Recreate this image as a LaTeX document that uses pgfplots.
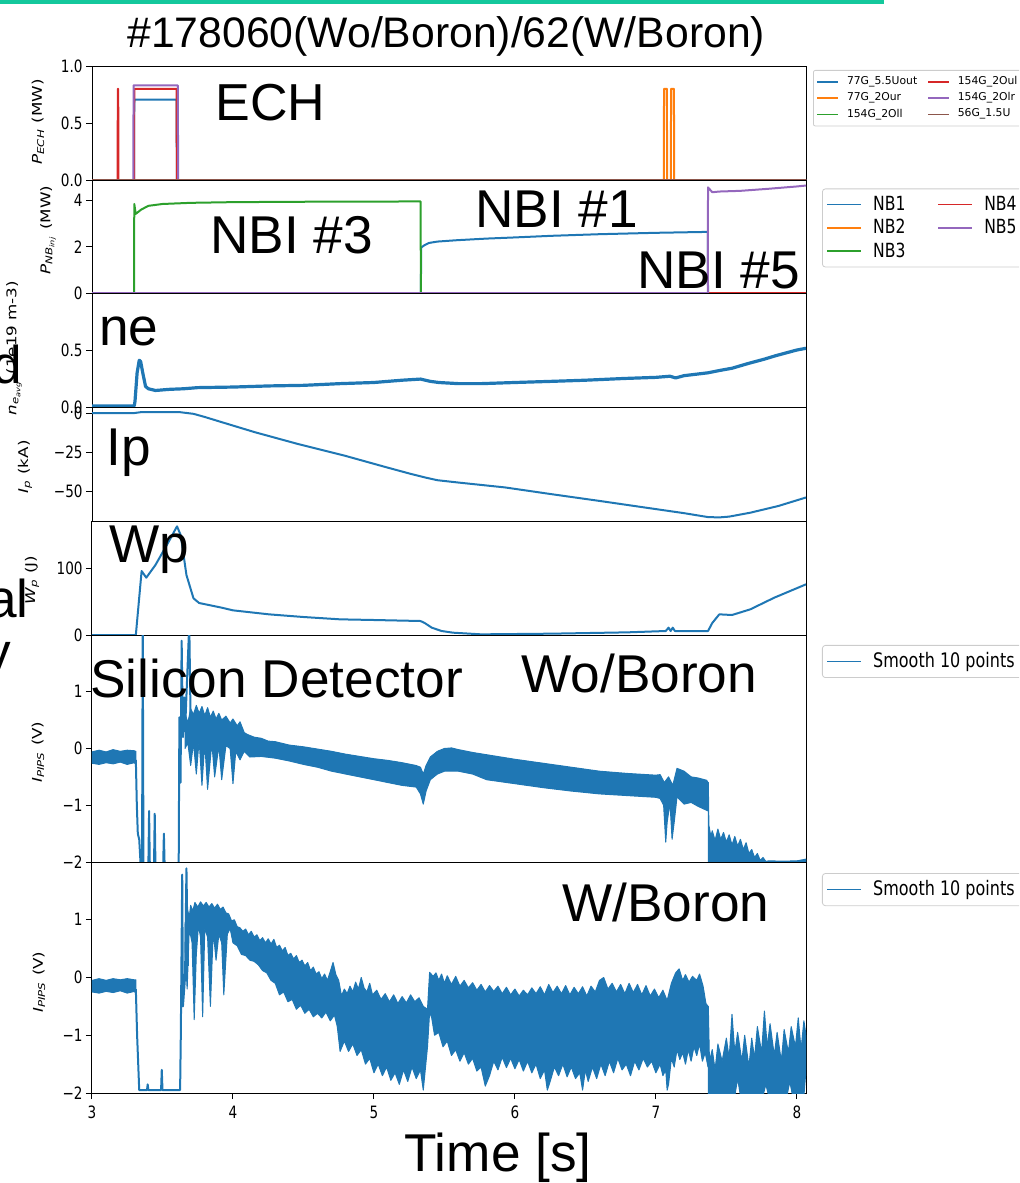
\documentclass[border=0pt]{standalone}
\usepackage{fontspec}
\setmainfont{DejaVu Sans}
\newfontfamily\slide{Liberation Sans}
\usepackage{graphicx}
\usepackage{pgfplots}
\pgfplotsset{compat=1.18}

\definecolor{mblue}{HTML}{1F77B4}
\definecolor{morange}{HTML}{FF7F0E}
\definecolor{mgreen}{HTML}{2CA02C}
\definecolor{mred}{HTML}{D62728}
\definecolor{mpurple}{HTML}{9467BD}
\definecolor{mbrown}{HTML}{8C564B}
\definecolor{teal}{HTML}{14C89C}

% matplotlib figure is stretched vertically on the slide
\newcommand\st[1]{\scalebox{1}[1.25]{#1}}
\newcommand\yst[1]{\scalebox{1.25}[1]{#1}}
\newcommand\tl{\fontsize{6.8}{7}\selectfont}
\newcommand\yl{\fontsize{6.7}{7}\selectfont}
\newcommand\bigslide{\slide\fontsize{26.6}{30}\selectfont}

\pgfplotsset{
  panel/.style={
    anchor=north west, scale only axis, width=357pt,
    xmin=3, xmax=8.065, xtick=\empty,
    ytick pos=left, tick align=outside, major tick length=3pt,
    axis line style={line width=0.5pt},
    tick style={line width=0.5pt, black},
    yticklabel style={font=\tl, inner sep=1.5pt},
    xticklabel style={font=\tl},
    legend cell align=left,
    every axis plot/.append style={line width=1pt, line join=round},
  },
  nblegend/.style={
    legend style={at={(1.0224,0.925)}, anchor=north west,
      font=\fontsize{7.8}{8}\selectfont, draw=black!20, rounded corners=1.5pt,
      inner xsep=2pt, inner ysep=1.5pt, row sep=-1pt,
      /tikz/every odd column/.append style={column sep=3.5pt},
      /tikz/every even column/.append style={column sep=14pt}},
    legend image code/.code={\draw[##1] (0pt,0pt) -- (17pt,0pt);},
  },
}

\begin{document}
\begin{tikzpicture}
\path[use as bounding box] (0pt,0pt) rectangle (509.5pt,-591.5pt);
\clip (0pt,0pt) rectangle (509.5pt,-591.5pt);
\begin{scope}[x=0.5pt,y=-0.5pt]
\fill[teal] (0,0) rectangle (884,3.5);
\end{scope}

% ---------------- ECH ----------------
\begin{axis}[panel, at={(46pt,-33pt)}, height=57pt,
  ymin=0, ymax=1, ytick={0,0.5,1}, yticklabels={\st{0.0},\st{0.5},\st{1.0}},
  legend columns=2,
  legend style={at={(1.0098,0.965)}, anchor=north west,
    font=\fontsize{5.4}{6}\selectfont, draw=black!20, rounded corners=1pt,
    inner xsep=1.5pt, inner ysep=1pt, row sep=-1.5pt,
    /tikz/every odd column/.append style={column sep=2pt},
    /tikz/every even column/.append style={column sep=3pt}},
  legend image code/.code={\draw[#1] (0pt,0pt) -- (10.5pt,0pt);}]
\addplot[mblue, forget plot] coordinates {(3,0) (3.298,0) (3.300,0.706) (3.600,0.706) (3.602,0) (8.065,0)};
\addplot[morange, forget plot] coordinates {(3,0) (7.056,0) (7.058,0.80) (7.078,0.80) (7.080,0) (7.106,0) (7.108,0.80) (7.128,0.80) (7.130,0) (8.065,0)};
\addplot[mgreen, forget plot] coordinates {(3,0) (8.065,0)};
\addplot[mred, forget plot] coordinates {(3,0) (3.182,0) (3.183,0.80) (3.186,0.80) (3.187,0) (3.298,0) (3.300,0.80) (3.600,0.80) (3.602,0) (8.065,0)};
\addplot[mpurple, forget plot] coordinates {(3,0) (3.293,0) (3.295,0.83) (3.609,0.83) (3.611,0) (8.065,0)};
\addplot[mbrown, forget plot] coordinates {(3,0) (8.065,0)};
\addlegendimage{mblue, line width=0.8pt}\addlegendentry{77G\_5.5Uout}
\addlegendimage{mred, line width=0.8pt}\addlegendentry{154G\_2Oul}
\addlegendimage{morange, line width=0.8pt}\addlegendentry{77G\_2Our}
\addlegendimage{mpurple, line width=0.8pt}\addlegendentry{154G\_2Olr}
\addlegendimage{mgreen, line width=0.8pt}\addlegendentry{154G\_2Oll}
\addlegendimage{mbrown, line width=0.8pt}\addlegendentry{56G\_1.5U}
\end{axis}

% ---------------- NBI ----------------
\begin{axis}[panel, nblegend, at={(46pt,-90pt)}, height=56.5pt,
  ymin=0, ymax=4.9, ytick={0,2,4}, yticklabels={\st{0},\st{2},\st{4}},
  legend columns=2]
\addplot[mblue, forget plot] coordinates {(3,0) (5.333,0) (5.335,1.97) (5.36,2.08) (5.39,2.17) (5.45,2.23) (5.59,2.29) (5.8,2.36) (6.0,2.41) (6.26,2.48) (6.6,2.55) (7.0,2.61) (7.368,2.65) (7.370,0) (8.065,0)};
\addplot[morange, forget plot] coordinates {(3,0) (8.065,0)};
\addplot[mgreen, forget plot] coordinates {(3,0) (3.298,0) (3.300,3.86) (3.31,3.43) (3.35,3.62) (3.40,3.78) (3.50,3.86) (3.70,3.91) (4.0,3.94) (4.6,3.96) (5.331,3.97) (5.333,0) (8.065,0)};
\addplot[mred, forget plot] coordinates {(3,0) (8.065,0)};
\addplot[mpurple, forget plot] coordinates {(3,0) (7.368,0) (7.370,4.58) (7.40,4.37) (7.45,4.40) (7.60,4.43) (7.80,4.52) (8.0,4.62) (8.065,4.66)};
\addlegendimage{mblue, line width=0.9pt}\addlegendentry{\st{NB1}}
\addlegendimage{mred, line width=0.9pt}\addlegendentry{\st{NB4}}
\addlegendimage{morange, line width=0.9pt}\addlegendentry{\st{NB2}}
\addlegendimage{mpurple, line width=0.9pt}\addlegendentry{\st{NB5}}
\addlegendimage{mgreen, line width=0.9pt}\addlegendentry{\st{NB3}}
\end{axis}

% ---------------- ne ----------------
\begin{axis}[panel, at={(46pt,-146.5pt)}, height=57pt,
  ymin=0, ymax=1, ytick={0,0.5}, yticklabels={\st{0.0},\st{0.5}}]
\addplot[mblue, line width=1.6pt] coordinates {(3.000,0.01) (3.300,0.01) (3.305,0.05) (3.32,0.30) (3.335,0.41) (3.345,0.40) (3.36,0.30) (3.38,0.18) (3.40,0.16) (3.45,0.145) (3.55,0.155) (3.65,0.16) (3.75,0.17) (4.0,0.175) (4.26,0.185) (4.5,0.19) (4.76,0.205) (5.0,0.215) (5.2,0.235) (5.33,0.245) (5.40,0.225) (5.46,0.215) (5.6,0.205) (5.76,0.205) (6.0,0.215) (6.26,0.225) (6.5,0.235) (6.77,0.25) (7.0,0.26) (7.10,0.27) (7.14,0.255) (7.2,0.275) (7.37,0.30) (7.45,0.32) (7.54,0.34) (7.65,0.38) (7.77,0.42) (7.85,0.45) (7.94,0.48) (8.0,0.50) (8.065,0.515)};
\end{axis}

% ---------------- Ip ----------------
\begin{axis}[panel, at={(46pt,-203.5pt)}, height=57pt,
  ymin=-68.8, ymax=3.85, ytick={-50,-25,0}, yticklabels={\st{−50},\st{−25},\st{0}}]
\addplot[mblue] coordinates {(3.0,0) (3.30,0) (3.35,0.6) (3.62,0.6) (3.72,-0.5) (3.80,-2.5) (3.92,-5.8) (4.155,-12.2) (4.46,-19.7) (4.79,-27.1) (5.09,-34.6) (5.25,-38.5) (5.36,-41) (5.45,-42.8) (5.59,-44.2) (5.93,-47.4) (6.26,-51.7) (6.60,-56) (6.93,-60.3) (7.20,-63.8) (7.37,-66.3) (7.45,-66.5) (7.52,-66.0) (7.67,-63.5) (7.87,-59.2) (8.065,-53.8)};
\end{axis}

% ---------------- Wp ----------------
\begin{axis}[panel, at={(46pt,-260.5pt)}, height=57pt,
  ymin=0, ymax=171, ytick={0,100}, yticklabels={\st{0},\st{100}}]
\addplot[mblue] coordinates {(3.0,0) (3.311,0) (3.352,96) (3.385,86) (3.45,105) (3.552,143) (3.603,163) (3.629,150) (3.67,90) (3.72,55) (3.76,48) (3.92,41) (4.0,37) (4.255,31) (4.5,27) (4.76,23.5) (5.0,22.5) (5.33,21) (5.36,18) (5.41,11) (5.48,6) (5.56,3.5) (5.76,1) (6.26,2) (6.8,4) (7.07,6) (7.09,11) (7.105,6) (7.12,11) (7.135,6) (7.37,6) (7.40,18) (7.45,31) (7.54,30) (7.67,38.5) (7.84,56) (8.065,76)};
\end{axis}

% ---------------- Silicon, Wo/Boron ----------------
\begin{axis}[panel, nblegend, at={(46pt,-317.5pt)}, height=113.5pt,
  ymin=-2, ymax=2, ytick={-2,-1,0,1}, yticklabels={\st{−2},\st{−1},\st{0},\st{1}},
  legend style={at={(1.0224,0.956)}, font=\fontsize{8}{8}\selectfont}]
\addplot[mblue, fill=mblue, line width=0.5pt, forget plot] coordinates {(3.0,-0.06) (3.05,-0.03) (3.10,-0.06) (3.15,-0.02) (3.20,-0.05) (3.25,-0.03) (3.30,-0.04) (3.311,-0.05) (3.311,-0.28) (3.30,-0.25) (3.25,-0.28) (3.20,-0.24) (3.15,-0.27) (3.10,-0.25) (3.05,-0.28) (3.0,-0.26)} -- cycle;
\addplot[mblue, forget plot] coordinates {(3.311,-0.2) (3.318,-1.0) (3.325,-1.5) (3.335,-1.6) (3.345,-2.05) (3.355,-2.05) (3.36,2.2) (3.365,-2.05) (3.40,-2.05) (3.405,-1.1) (3.41,-2.05) (3.44,-2.05) (3.445,-1.15) (3.45,-2.05) (3.505,-2.05) (3.51,-1.5) (3.515,-2.05) (3.615,-2.05) (3.62,0.55) (3.628,-0.6) (3.636,1.9) (3.645,0.2) (3.655,0.9) (3.66,0.3) (3.69,2.2) (3.70,0.4)};
\addplot[mblue, fill=mblue, line width=0.5pt, forget plot] coordinates {(3.66,0.62) (3.68,0.45) (3.70,0.70) (3.72,0.60) (3.74,0.76) (3.76,0.62) (3.78,0.74) (3.80,0.58) (3.82,0.72) (3.84,0.55) (3.86,0.66) (3.88,0.52) (3.90,0.62) (3.92,0.50) (3.95,0.57) (3.98,0.45) (4.00,0.52) (4.03,0.40) (4.05,0.47) (4.08,0.28) (4.10,0.25) (4.15,0.20) (4.20,0.18) (4.25,0.13) (4.30,0.12) (4.40,0.06) (4.50,0.03) (4.60,-0.01) (4.70,-0.05) (4.80,-0.10) (4.90,-0.14) (5.00,-0.18) (5.10,-0.21) (5.20,-0.25) (5.30,-0.30) (5.33,-0.33) (5.35,-0.45) (5.37,-0.30) (5.40,-0.15) (5.45,-0.05) (5.50,0.00) (5.55,0.01) (5.60,-0.02) (5.70,-0.07) (5.80,-0.11) (5.90,-0.15) (6.00,-0.19) (6.20,-0.26) (6.40,-0.33) (6.60,-0.40) (6.80,-0.44) (7.00,-0.47) (7.03,-0.46) (7.06,-0.60) (7.09,-0.50) (7.12,-0.65) (7.15,-0.35) (7.20,-0.40) (7.25,-0.50) (7.30,-0.52) (7.36,-0.56) (7.37,-0.60)
 (7.37,-1.10) (7.30,-1.02) (7.25,-0.95) (7.20,-0.98) (7.15,-0.85) (7.13,-1.30) (7.115,-1.60) (7.10,-0.95) (7.08,-1.30) (7.07,-1.65) (7.055,-1.0) (7.03,-0.88) (7.00,-0.86) (6.80,-0.83) (6.60,-0.80) (6.40,-0.75) (6.20,-0.69) (6.00,-0.62) (5.80,-0.55) (5.70,-0.45) (5.60,-0.40) (5.50,-0.40) (5.45,-0.45) (5.40,-0.55) (5.37,-0.75) (5.35,-0.98) (5.33,-0.80) (5.30,-0.68) (5.20,-0.65) (5.10,-0.60) (5.00,-0.55) (4.90,-0.50) (4.80,-0.45) (4.70,-0.40) (4.60,-0.33) (4.50,-0.28) (4.40,-0.22) (4.30,-0.17) (4.20,-0.14) (4.12,-0.15) (4.10,-0.10) (4.08,-0.05) (4.05,-0.20) (4.02,-0.05) (4.00,-0.62) (3.98,0.00) (3.95,0.05) (3.92,-0.55) (3.90,0.05) (3.87,-0.50) (3.85,0.10) (3.82,-0.72) (3.80,0.10) (3.78,-0.65) (3.76,0.15) (3.74,-0.45) (3.72,0.10) (3.70,-0.30) (3.68,0.10) (3.66,0.00)} -- cycle;
\addplot[mblue, fill=mblue, line width=0.5pt, forget plot] coordinates {(7.372,-0.6) (7.376,-1.35) (7.39,-1.55) (7.40,-1.45) (7.42,-1.62) (7.44,-1.42) (7.46,-1.60) (7.48,-1.48) (7.50,-1.65) (7.52,-1.52) (7.54,-1.70) (7.56,-1.55) (7.58,-1.72) (7.60,-1.60) (7.62,-1.78) (7.64,-1.66) (7.66,-1.85) (7.68,-1.78) (7.70,-1.92) (7.72,-1.85) (7.74,-1.97) (7.76,-1.92) (7.78,-1.99) (7.80,-1.98) (7.90,-1.985) (8.00,-1.98) (8.065,-1.95) (8.065,-2.1) (7.372,-2.1)} -- cycle;
\addlegendimage{mblue, line width=0.9pt}\addlegendentry{\st{Smooth 10 points}}
\end{axis}

% ---------------- Silicon, W/Boron ----------------
\begin{axis}[panel, nblegend, at={(46pt,-431pt)}, height=115.5pt,
  ymin=-2, ymax=2, ytick={-2,-1,0,1}, yticklabels={\st{−2},\st{−1},\st{0},\st{1}},
  xtick={3,4,5,6,7,8}, xticklabels={\st{3},\st{4},\st{5},\st{6},\st{7},\st{8}},
  xtick pos=bottom,
  legend style={at={(1.0224,0.952)}, font=\fontsize{8}{8}\selectfont}]
\addplot[mblue, fill=mblue, line width=0.5pt, forget plot] coordinates {(3.0,-0.05) (3.05,-0.02) (3.10,-0.05) (3.15,-0.02) (3.20,-0.04) (3.25,-0.02) (3.30,-0.04) (3.311,-0.04) (3.311,-0.27) (3.30,-0.24) (3.25,-0.27) (3.20,-0.23) (3.15,-0.26) (3.10,-0.24) (3.05,-0.27) (3.0,-0.25)} -- cycle;
\addplot[mblue, forget plot] coordinates {(3.311,-0.2) (3.32,-1.0) (3.335,-1.95) (3.39,-1.95) (3.395,-1.85) (3.40,-1.95) (3.49,-1.95) (3.495,-1.6) (3.50,-1.95) (3.625,-1.95) (3.63,-1.0) (3.64,1.78) (3.645,-0.5) (3.66,0.0) (3.67,1.89) (3.68,0.2)};
\addplot[mblue, fill=mblue, line width=0.5pt, forget plot] coordinates {(3.660,0.9) (3.675,1.20) (3.69,1.05) (3.70,1.25) (3.715,1.15) (3.73,1.30) (3.75,1.22) (3.77,1.31) (3.79,1.24) (3.81,1.30) (3.83,1.22) (3.85,1.28) (3.87,1.20) (3.89,1.27) (3.91,1.18) (3.93,1.22) (3.95,1.12) (3.97,1.10) (3.99,0.98) (4.01,1.00) (4.03,0.88) (4.05,0.86) (4.07,0.80) (4.09,0.84) (4.11,0.74) (4.13,0.80) (4.15,0.70) (4.17,0.74) (4.19,0.64) (4.21,0.69) (4.23,0.60) (4.25,0.67) (4.27,0.58) (4.29,0.66) (4.31,0.52) (4.33,0.56) (4.35,0.46) (4.37,0.52) (4.39,0.38) (4.41,0.42) (4.43,0.32) (4.45,0.38) (4.47,0.26) (4.49,0.30) (4.51,0.20) (4.53,0.26) (4.55,0.12) (4.57,0.18) (4.59,0.06) (4.61,0.10) (4.63,-0.02) (4.65,0.06) (4.67,-0.05) (4.69,0.10) (4.71,0.26) (4.73,0.05) (4.75,-0.05) (4.77,-0.32) (4.79,-0.20) (4.81,-0.28) (4.83,-0.15) (4.85,-0.25) (4.87,-0.08) (4.89,-0.20) (4.91,0.0) (4.93,-0.18) (4.95,-0.25) (4.97,-0.10) (4.99,-0.30) (5.02,-0.22) (5.05,-0.38) (5.08,-0.28) (5.11,-0.42) (5.14,-0.30) (5.17,-0.45) (5.20,-0.33) (5.23,-0.44) (5.26,-0.30) (5.29,-0.42) (5.32,-0.35) (5.35,-0.50) (5.38,-0.55) (5.395,0.09) (5.42,0.02) (5.44,0.08) (5.46,-0.05) (5.48,0.06) (5.50,-0.10) (5.52,0.03) (5.55,-0.12) (5.58,0.02) (5.61,-0.15) (5.64,-0.05) (5.67,-0.18) (5.70,-0.09) (5.73,-0.22) (5.76,-0.12) (5.79,-0.25) (5.82,-0.14) (5.85,-0.24) (5.88,-0.15) (5.91,-0.28) (5.94,-0.17) (5.97,-0.30) (6.00,-0.20) (6.03,-0.32) (6.06,-0.22) (6.09,-0.30) (6.12,-0.18) (6.15,-0.28) (6.18,-0.16) (6.21,-0.30) (6.24,-0.12) (6.27,-0.26) (6.30,-0.15) (6.33,-0.28) (6.36,-0.14) (6.39,-0.30) (6.42,-0.17) (6.45,-0.28) (6.48,-0.16) (6.51,-0.32) (6.54,-0.15) (6.57,-0.25) (6.60,-0.05) (6.63,0.0) (6.66,-0.20) (6.69,-0.10) (6.72,-0.25) (6.75,-0.12) (6.78,-0.28) (6.81,-0.10) (6.84,-0.26) (6.87,-0.12) (6.90,-0.30) (6.93,-0.14) (6.96,-0.32) (6.99,-0.20) (7.02,-0.35) (7.05,-0.22) (7.08,-0.40) (7.11,-0.10) (7.14,0.08) (7.165,0.15) (7.19,-0.05) (7.21,0.05) (7.235,-0.08) (7.26,0.02) (7.29,-0.05) (7.31,0.06) (7.335,-0.15) (7.355,-0.45) (7.37,-0.50)
 (7.37,-1.55) (7.35,-1.30) (7.33,-1.45) (7.31,-1.15) (7.29,-1.35) (7.27,-1.20) (7.25,-1.45) (7.23,-1.25) (7.21,-1.50) (7.19,-1.30) (7.17,-1.42) (7.15,-1.25) (7.13,-1.55) (7.11,-1.40) (7.09,-1.85) (7.08,-1.95) (7.07,-1.60) (7.05,-1.70) (7.03,-1.50) (7.00,-1.65) (6.97,-1.45) (6.94,-1.55) (6.91,-1.40) (6.88,-1.60) (6.85,-1.45) (6.82,-1.70) (6.79,-1.50) (6.76,-1.60) (6.73,-1.40) (6.70,-1.65) (6.67,-1.45) (6.64,-1.70) (6.61,-1.50) (6.58,-1.75) (6.55,-1.55) (6.52,-1.80) (6.50,-1.60) (6.48,-1.95) (6.46,-1.65) (6.43,-1.75) (6.40,-1.55) (6.37,-1.72) (6.34,-1.50) (6.31,-1.70) (6.28,-1.55) (6.25,-1.80) (6.23,-1.95) (6.21,-1.60) (6.18,-1.75) (6.15,-1.50) (6.12,-1.65) (6.09,-1.45) (6.06,-1.62) (6.03,-1.42) (6.00,-1.58) (5.97,-1.40) (5.94,-1.56) (5.91,-1.38) (5.88,-1.60) (5.85,-1.45) (5.82,-1.70) (5.79,-1.88) (5.76,-1.55) (5.73,-1.62) (5.70,-1.40) (5.67,-1.50) (5.64,-1.30) (5.61,-1.45) (5.58,-1.25) (5.55,-1.35) (5.52,-1.10) (5.49,-1.20) (5.46,-0.95) (5.43,-1.00) (5.41,-0.70) (5.395,-0.60) (5.38,-1.20) (5.35,-1.95) (5.33,-1.60) (5.30,-1.75) (5.27,-1.55) (5.24,-1.80) (5.21,-1.60) (5.18,-1.85) (5.15,-1.65) (5.12,-1.78) (5.09,-1.55) (5.06,-1.70) (5.03,-1.50) (5.00,-1.65) (4.97,-1.40) (4.94,-1.50) (4.91,-1.25) (4.88,-1.35) (4.85,-1.15) (4.82,-1.28) (4.79,-1.10) (4.76,-1.28) (4.74,-0.85) (4.72,-0.65) (4.69,-0.75) (4.66,-0.60) (4.63,-0.70) (4.60,-0.62) (4.57,-0.68) (4.54,-0.55) (4.51,-0.62) (4.48,-0.48) (4.45,-0.55) (4.42,-0.38) (4.39,-0.42) (4.36,-0.25) (4.33,-0.30) (4.30,-0.10) (4.27,-0.05) (4.24,0.08) (4.21,0.12) (4.18,0.22) (4.15,0.28) (4.12,0.30) (4.09,0.38) (4.06,0.40) (4.03,0.55) (4.00,0.60) (3.98,0.85) (3.96,0.75) (3.935,-0.30) (3.92,0.60) (3.90,0.75) (3.88,0.30) (3.86,0.80) (3.84,-0.50) (3.82,0.70) (3.80,0.85) (3.785,-0.68) (3.77,0.70) (3.755,0.90) (3.74,0.40) (3.725,-0.73) (3.71,0.60) (3.69,0.85) (3.675,-0.20) (3.66,0.5)} -- cycle;
\addplot[mblue, fill=mblue, line width=0.5pt, forget plot] coordinates {(7.372,-0.5) (7.38,-1.45) (7.40,-1.25) (7.42,-1.60) (7.44,-1.15) (7.47,-1.45) (7.50,-1.05) (7.52,-1.40) (7.54,-0.64) (7.56,-1.30) (7.58,-0.95) (7.61,-1.45) (7.63,-1.00) (7.66,-1.55) (7.68,-1.05) (7.70,-1.40) (7.72,-0.85) (7.75,-1.30) (7.77,-0.58) (7.79,-1.20) (7.81,-0.80) (7.84,-1.35) (7.86,-0.95) (7.89,-1.45) (7.91,-0.90) (7.94,-1.30) (7.96,-0.85) (7.99,-1.20) (8.01,-0.70) (8.03,-1.25) (8.05,-0.75) (8.065,-1.0)
 (8.065,-1.6) (8.05,-2.05) (7.97,-2.05) (7.95,-1.80) (7.93,-2.05) (7.80,-2.05) (7.78,-1.85) (7.76,-2.05) (7.60,-2.05) (7.58,-1.75) (7.56,-2.05) (7.372,-2.05)} -- cycle;
\addlegendimage{mblue, line width=0.9pt}\addlegendentry{\st{Smooth 10 points}}
\end{axis}

\begin{scope}[x=0.5pt,y=-0.5pt]
% axis labels
\node[rotate=90, font=\yl] at (38,122) {\yst{{\itshape P}\textsubscript{\itshape ECH} (MW)}};
\node[rotate=90, font=\yl] at (48,230) {\yst{{\itshape P}\textsubscript{\itshape NB\textsubscript{inj}} (MW)}};
\node[rotate=90, font=\yl] at (14,348) {\yst{{\itshape n}\textsubscript{\itshape e\textsubscript{avg}} (1e19 m-3)}};
\node[rotate=90, font=\yl] at (25,467) {\yst{{\itshape I}\textsubscript{\itshape p} (kA)}};
\node[rotate=90, font=\yl] at (32,580) {\yst{{\itshape W}\textsubscript{\itshape p} (J)}};
\node[rotate=90, font=\yl] at (38,752) {\yst{{\itshape I}\textsubscript{\itshape PIPS} (V)}};
\node[rotate=90, font=\yl] at (39,982) {\yst{{\itshape I}\textsubscript{\itshape PIPS} (V)}};
% slide text
\node[anchor=base west, inner sep=0, font=\slide\fontsize{21.35}{24}\selectfont] at (127,47) {\#178060(Wo/Boron)/62(W/Boron)};
\node[anchor=base west, inner sep=0, font=\slide\fontsize{26}{28}\selectfont] at (215,120) {ECH};
\node[anchor=base west, inner sep=0, font=\bigslide] at (210,253) {NBI \#3};
\node[anchor=base west, inner sep=0, font=\bigslide] at (475,227) {NBI \#1};
\node[anchor=base west, inner sep=0, font=\bigslide] at (637,288) {NBI \#5};
\node[anchor=base west, inner sep=0, font=\bigslide] at (99,345) {ne};
\node[anchor=base west, inner sep=0, font=\bigslide] at (106,465) {Ip};
\node[anchor=base west, inner sep=0, font=\bigslide] at (109,562) {Wp};
\node[anchor=base west, inner sep=0, font=\bigslide] at (90,697) {Silicon Detector};
\node[anchor=base west, inner sep=0, font=\bigslide] at (521,692) {Wo/Boron};
\node[anchor=base west, inner sep=0, font=\bigslide] at (562,921) {W/Boron};
\node[anchor=base west, inner sep=0, font=\bigslide] at (404,1171) {Time [s]};
\node[anchor=base east, inner sep=0, font=\bigslide] at (22,383) {d};
\node[anchor=base east, inner sep=0, font=\bigslide] at (29,617) {al};
\begin{scope}
\clip (0,630) rectangle (30,668);
\node[anchor=base east, inner sep=0, font=\bigslide] at (11,670) {y};
\end{scope}
\end{scope}
\end{tikzpicture}
\end{document}
